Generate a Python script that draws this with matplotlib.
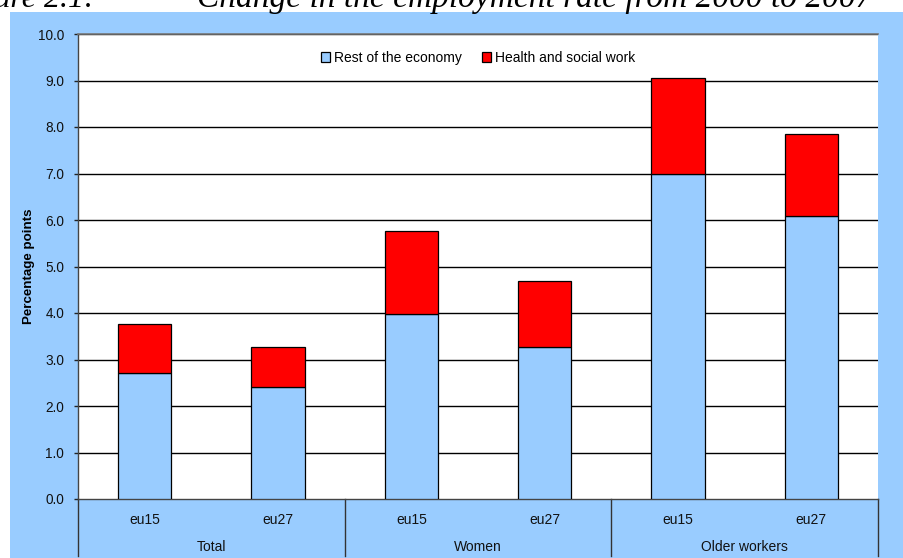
import matplotlib
matplotlib.use("Agg")
import matplotlib.pyplot as plt
from matplotlib.patches import Rectangle, Patch
import numpy as np

groups = ["Total", "Women", "Older workers"]
subcats = ["eu15", "eu27", "eu15", "eu27", "eu15", "eu27"]
rest_of_economy = [2.70, 2.41, 3.98, 3.27, 7.00, 6.08]
health_social = [1.06, 0.85, 1.78, 1.42, 2.05, 1.78]
yticks = [0, 1, 2, 3, 4, 5, 6, 7, 8, 9, 10]

LIGHT = "#99CCFF"
RED = "#FF0000"

plt.rcParams['font.family'] = ['Liberation Sans', 'DejaVu Sans']

fig = plt.figure(figsize=(9.04, 5.58), dpi=100, facecolor="white")
W, H = 904, 558
# blue panel (behind everything)
panel = Rectangle((10 / W, 0), 1 - 10 / W, 1 - 12 / H,
                  transform=fig.transFigure, facecolor=LIGHT,
                  edgecolor="none", zorder=-10)
fig.add_artist(panel)

# clipped title (cut at the top edge as in the reference)
fig.text(95 / W, 1 - 7 / H, "Figure 2.1:", ha="right", va="baseline",
         fontsize=23, style="italic", family=["Liberation Serif", "DejaVu Serif"])
fig.text(197 / W, 1 - 7 / H, "Change in the employment rate from 2000 to 2007",
         ha="left", va="baseline", fontsize=24, style="italic",
         family=["Liberation Serif", "DejaVu Serif"])

left, right, top, bottom = 78, 878, 34, 499
ax = fig.add_axes([left / W, (H - bottom) / H, (right - left) / W, (bottom - top) / H])
ax.set_facecolor("white")
ax.set_zorder(1)

x = np.arange(len(subcats))
ax.bar(x, rest_of_economy, width=0.4, color=LIGHT, edgecolor="black", linewidth=0.9, zorder=3)
ax.bar(x, health_social, width=0.4, bottom=rest_of_economy, color=RED,
       edgecolor="black", linewidth=0.9, zorder=3)

ax.set_xlim(-0.5, len(subcats) - 0.5)
ax.set_ylim(0, 10)
ax.set_yticks(yticks)
ax.set_yticklabels([f"{v:.1f}" for v in yticks], fontsize=9.8, color="#111111")
for v in yticks[1:]:
    ax.axhline(v, color="black", linewidth=1.0, zorder=1)
ax.tick_params(axis="y", length=3, width=1, pad=7, color="#222222")
ax.set_xticks([])

ax.spines["right"].set_visible(False)
ax.spines["top"].set_color("#777777")
ax.spines["top"].set_linewidth(1.2)
ax.spines["left"].set_color("#444444")
ax.spines["bottom"].set_color("#444444")
ax.spines["left"].set_linewidth(1)
ax.spines["bottom"].set_linewidth(1)

ax.set_ylabel("Percentage points", fontsize=9.6, fontweight="bold")
ax.yaxis.set_label_coords((35 - left) / (right - left), 0.5)

# category axis
trans = ax.get_xaxis_transform()
ah = bottom - top
y_sub = -(520 - bottom) / ah
y_grp = -(547 - bottom) / ah
y_end = -(556 - bottom) / ah
for xi, lab in zip(x, subcats):
    ax.text(xi, y_sub, lab, transform=trans, ha="center", va="center", fontsize=10, color="#111111")
for gi, g in enumerate(groups):
    ax.text(2 * gi + 0.5, y_grp, g, transform=trans, ha="center", va="center", fontsize=10, color="#111111")
for sx in [-0.5, 1.5, 3.5, 5.5]:
    ax.plot([sx, sx], [0, y_end], transform=trans, color="#333333", linewidth=1, clip_on=False)

handles = [Patch(facecolor=LIGHT, edgecolor="black", linewidth=0.9, label="Rest of the economy"),
           Patch(facecolor=RED, edgecolor="black", linewidth=0.9, label="Health and social work")]
ax.legend(handles=handles, loc="center", bbox_to_anchor=(0.5, (bottom - 58) / ah), ncol=2,
          frameon=False, fontsize=10, handlelength=0.65, handleheight=0.65,
          handletextpad=0.25, columnspacing=1.5)

fig.savefig("out.png", dpi=100, facecolor="white")
